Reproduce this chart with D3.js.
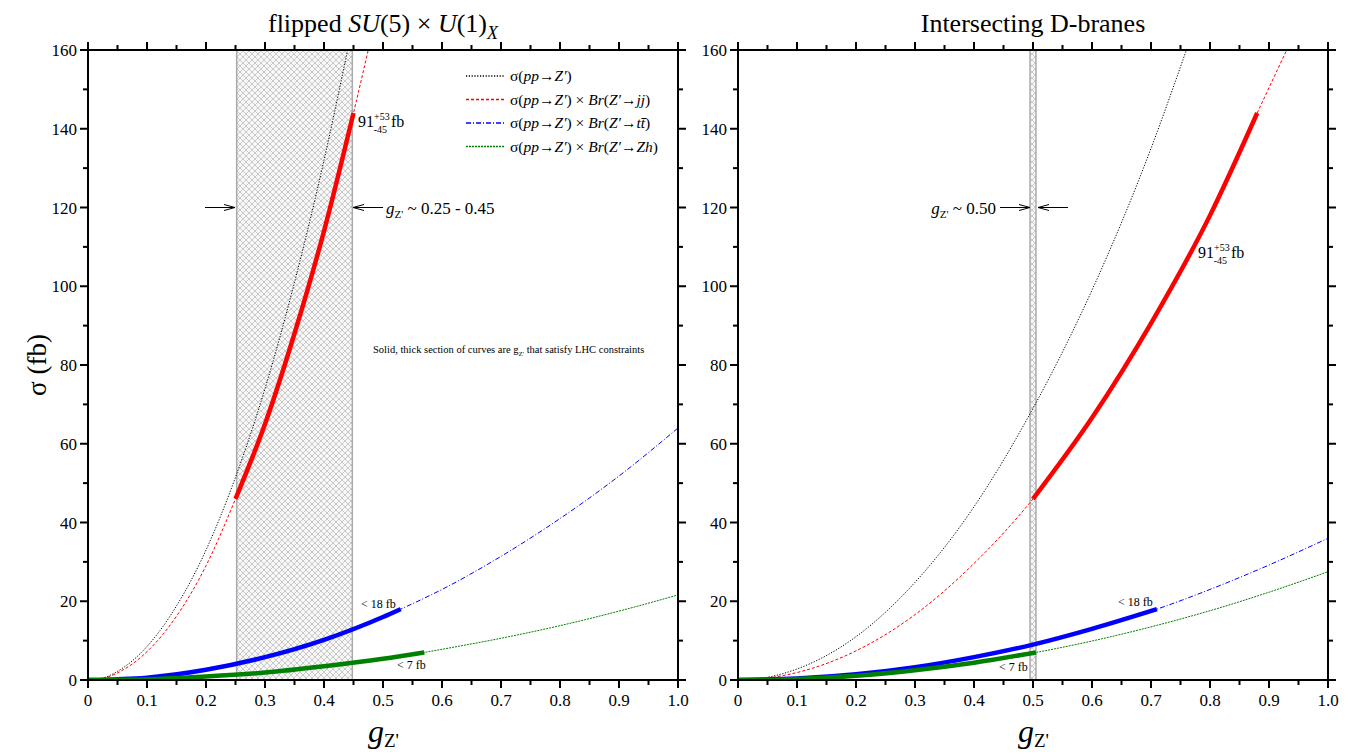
<!DOCTYPE html>
<html>
<head>
<meta charset="utf-8">
<script src="https://cdn.jsdelivr.net/npm/d3@7"></script>
<style>
  body { margin: 0; background: #fff; }
  svg { font-family: "Liberation Serif", "Times New Roman", serif; }
</style>
</head>
<body>
<div id="plot"></div>
<script>
// [g, sigma in fb]
const flippedTotal = [[0,0],[0.02,0.3],[0.05,2.2],[0.1,8.5],[0.15,18.8],[0.2,33],[0.25,51.5],[0.3,74],[0.35,101],[0.4,132],[0.44,160]];
const flippedJJ    = [[0,0],[0.02,0.2],[0.05,1.8],[0.1,7.2],[0.15,16.2],[0.2,29],[0.25,46],[0.3,65],[0.35,88],[0.4,114],[0.45,144],[0.475,160]];
const flippedTT    = [[0,0],[0.1,0.6],[0.2,2.6],[0.3,5.8],[0.4,10.2],[0.5,16],[0.53,18],[0.6,23],[0.7,31.4],[0.8,41],[0.9,51.8],[1.0,64]];
const flippedZH    = [[0,0],[0.1,0.2],[0.2,0.9],[0.3,1.9],[0.4,3.5],[0.5,5.4],[0.57,7],[0.6,7.8],[0.7,10.6],[0.8,13.8],[0.9,17.5],[1.0,21.6]];

const branesTotal = [[0,0],[0.05,0.7],[0.1,2.8],[0.2,11],[0.3,24.8],[0.4,44],[0.5,69],[0.6,99],[0.7,135],[0.76,160]];
const branesJJ    = [[0,0],[0.05,0.5],[0.1,1.9],[0.2,7.4],[0.3,16.6],[0.4,29.6],[0.5,46],[0.6,66.6],[0.7,90.6],[0.8,118],[0.88,144],[0.93,160]];
const branesTT    = [[0,0],[0.1,0.36],[0.2,1.44],[0.3,3.24],[0.4,5.8],[0.5,9],[0.6,13],[0.71,18],[0.8,23],[0.9,29.2],[1.0,36]];
const branesZH    = [[0,0],[0.1,0.28],[0.2,1.1],[0.3,2.5],[0.4,4.4],[0.505,7],[0.6,9.9],[0.7,13.5],[0.8,17.6],[0.9,22.3],[1.0,27.5]];

// g ranges drawn thick (satisfy LHC constraints)
const flippedThick = { jj: [0.25, 0.45], tt: [0, 0.53], zh: [0, 0.57] };
const branesThick  = { jj: [0.5, 0.88], tt: [0, 0.71], zh: [0, 0.505] };
const flippedBand = [0.252, 0.448];
const branesBand  = [0.495, 0.505];

const xTicks = [0, 0.1, 0.2, 0.3, 0.4, 0.5, 0.6, 0.7, 0.8, 0.9, 1.0];
const yTicks = [0, 20, 40, 60, 80, 100, 120, 140, 160];

const styles = {
  total: { color: "#000", dash: "1.2,1.6" },
  jj:    { color: "#ff0000", dash: "3,2" },
  tt:    { color: "#0000ff", dash: "5,2,1,2" },
  zh:    { color: "#008000", dash: "2,1" }
};

const W = 1363, H = 755;
const svg = d3.select("#plot").append("svg").attr("width", W).attr("height", H);

const defs = svg.append("defs");
const pat = defs.append("pattern")
  .attr("id", "hatch").attr("patternUnits", "userSpaceOnUse")
  .attr("width", 6).attr("height", 6);
pat.append("rect").attr("width", 6).attr("height", 6).attr("fill", "#f7f7f7");
pat.append("path").attr("d", "M0,0 L6,6 M6,0 L0,6")
  .attr("stroke", "#c4c4c4").attr("stroke-width", 0.9);

function panel(opt) {
  const x = d3.scaleLinear().domain([0, 1]).range([opt.left, opt.left + 590]);
  const y = d3.scaleLinear().domain([0, 160]).range([680, 50]);
  const g = svg.append("g");

  defs.append("clipPath").attr("id", opt.id + "clip")
    .append("rect").attr("x", x(0)).attr("y", y(160)).attr("width", 590).attr("height", 630);

  // hatched band
  g.append("rect")
    .attr("x", x(opt.band[0])).attr("y", y(160))
    .attr("width", x(opt.band[1]) - x(opt.band[0])).attr("height", 630)
    .attr("fill", "url(#hatch)").attr("stroke", "#aaa").attr("stroke-width", 1.5);

  const line = d3.line().x(d => x(d[0])).y(d => y(d[1])).curve(d3.curveMonotoneX);
  const plot = g.append("g").attr("clip-path", `url(#${opt.id}clip)`);

  const series = [["total", opt.total], ["jj", opt.jj], ["tt", opt.tt], ["zh", opt.zh]];
  series.forEach(([k, data]) => {
    plot.append("path").datum(data)
      .attr("fill", "none").attr("stroke", styles[k].color)
      .attr("stroke-width", 1).attr("stroke-dasharray", styles[k].dash)
      .attr("d", line);
  });
  series.forEach(([k, data]) => {
    const r = opt.thick[k];
    if (!r) return;
    plot.append("path").datum(data.filter(d => d[0] >= r[0] - 1e-9 && d[0] <= r[1] + 1e-9))
      .attr("fill", "none").attr("stroke", styles[k].color)
      .attr("stroke-width", 4.5).attr("d", line);
  });

  // axes
  const minorX = d3.range(0, 1.0001, 0.05);
  const minorY = d3.range(0, 161, 10);
  const axes = g.append("g").attr("stroke", "#000");
  axes.append("rect").attr("x", x(0)).attr("y", y(160)).attr("width", 590).attr("height", 630)
    .attr("fill", "none").attr("stroke-width", 2);
  minorX.forEach((v, i) => {
    const len = i % 2 === 0 ? 8 : 5;
    axes.append("line").attr("x1", x(v)).attr("x2", x(v)).attr("y1", y(0)).attr("y2", y(0) + len).attr("stroke-width", 2);
    axes.append("line").attr("x1", x(v)).attr("x2", x(v)).attr("y1", y(160)).attr("y2", y(160) - len).attr("stroke-width", 2);
  });
  minorY.forEach((v, i) => {
    const len = i % 2 === 0 ? 8 : 5;
    axes.append("line").attr("x1", x(0)).attr("x2", x(0) - len).attr("y1", y(v)).attr("y2", y(v)).attr("stroke-width", 2);
    axes.append("line").attr("x1", x(1)).attr("x2", x(1) + len).attr("y1", y(v)).attr("y2", y(v)).attr("stroke-width", 2);
  });
  g.selectAll(".xt").data(xTicks).enter().append("text")
    .attr("x", d => x(d)).attr("y", y(0) + 26).attr("text-anchor", "middle")
    .attr("font-size", 17).text(d => d === 0 ? "0" : d3.format(".1f")(d));
  g.selectAll(".yt").data(yTicks).enter().append("text")
    .attr("x", x(0) - 11).attr("y", d => y(d) + 6).attr("text-anchor", "end")
    .attr("font-size", 17).text(d => d);

  // x axis title
  const xt = g.append("text").attr("x", x(0.5) - 15).attr("y", 742).attr("font-size", 32);
  xt.append("tspan").attr("font-style", "italic").text("g");
  xt.append("tspan").attr("font-size", 19).attr("dy", 5).text("Z'");

  // arrows
  const ay = y(120);
  const arrow = (x1, x2) => {
    g.append("line").attr("x1", x1).attr("x2", x2).attr("y1", ay).attr("y2", ay).attr("stroke", "#000").attr("stroke-width", 1);
    const s = Math.sign(x2 - x1);
    g.append("path").attr("d", `M${x2 - s * 11},${ay - 3} L${x2},${ay} L${x2 - s * 11},${ay + 3}`)
      .attr("fill", "none").attr("stroke", "#000").attr("stroke-width", 1);
  };
  opt.arrows.forEach(a => arrow(a[0], a[1]));

  const gl = g.append("text").attr("x", opt.gLabel[0]).attr("y", opt.gLabel[1])
    .attr("text-anchor", opt.gLabel[2]).attr("font-size", 17);
  gl.append("tspan").attr("font-style", "italic").text("g");
  gl.append("tspan").attr("font-size", 11).attr("dy", 4).text("Z'");
  gl.append("tspan").attr("dy", -4).text(" ~ " + opt.gText);

  // 91 fb label
  const lab = g.append("text").attr("x", opt.label91[0]).attr("y", opt.label91[1]).attr("font-size", 16);
  lab.append("tspan").text("91");
  lab.append("tspan").attr("font-size", 10).attr("dy", -7).text("+53");
  lab.append("tspan").attr("font-size", 10).attr("dx", -16).attr("dy", 13).text("-45");
  lab.append("tspan").attr("dy", -6).text(" fb");

  g.append("text").attr("x", opt.l18[0]).attr("y", opt.l18[1]).attr("font-size", 12).text("< 18 fb");
  g.append("text").attr("x", opt.l7[0]).attr("y", opt.l7[1]).attr("font-size", 12).text("< 7 fb");

  return { g, x, y };
}

const left = panel({
  id: "a", left: 88, band: flippedBand, thick: flippedThick,
  total: flippedTotal, jj: flippedJJ, tt: flippedTT, zh: flippedZH,
  arrows: [[205, 235], [383, 353]], gLabel: [386, 214, "start"], gText: "0.25 - 0.45",
  label91: [358, 127], l18: [361, 608], l7: [397, 669]
});
const right = panel({
  id: "b", left: 738, band: branesBand, thick: branesThick,
  total: branesTotal, jj: branesJJ, tt: branesTT, zh: branesZH,
  arrows: [[1000, 1030], [1068, 1038]], gLabel: [996, 214, "end"], gText: "0.50",
  label91: [1198, 258], l18: [1118, 606], l7: [999, 671]
});

// titles
const t1 = svg.append("text").attr("x", 383).attr("y", 32).attr("text-anchor", "middle").attr("font-size", 26);
t1.append("tspan").text("flipped ");
t1.append("tspan").attr("font-style", "italic").text("SU");
t1.append("tspan").text("(5) × ");
t1.append("tspan").attr("font-style", "italic").text("U");
t1.append("tspan").text("(1)");
t1.append("tspan").attr("font-style", "italic").attr("font-size", 18).attr("dy", 7).text("X");
svg.append("text").attr("x", 1033).attr("y", 32).attr("text-anchor", "middle").attr("font-size", 26).text("Intersecting D-branes");

// y title
svg.append("text").attr("transform", "translate(46,365) rotate(-90)").attr("text-anchor", "middle")
  .attr("font-size", 27).text("σ (fb)");

// legend
const legendItems = [
  ["total", ["σ(", ["pp"], "→", ["Z′"], ")"]],
  ["jj", ["σ(", ["pp"], "→", ["Z′"], ") × ", ["Br"], "(", ["Z′"], "→", ["jj"], ")"]],
  ["tt", ["σ(", ["pp"], "→", ["Z′"], ") × ", ["Br"], "(", ["Z′"], "→", ["tt̄"], ")"]],
  ["zh", ["σ(", ["pp"], "→", ["Z′"], ") × ", ["Br"], "(", ["Z′"], "→", ["Zh"], ")"]]
];
const lg = svg.append("g").attr("transform", "translate(466,76)");
legendItems.forEach(([k, parts], i) => {
  const yy = i * 23.5;
  lg.append("line").attr("x1", 0).attr("x2", 38).attr("y1", yy).attr("y2", yy)
    .attr("stroke", styles[k].color).attr("stroke-width", 1.3).attr("stroke-dasharray", styles[k].dash);
  const t = lg.append("text").attr("x", 44).attr("y", yy + 5).attr("font-size", 15.5);
  parts.forEach(p => {
    if (Array.isArray(p)) t.append("tspan").attr("font-style", "italic").text(p[0]);
    else t.append("tspan").text(p);
  });
});

// note
const note = svg.append("text").attr("x", 373).attr("y", 353).attr("font-size", 10.5);
note.append("tspan").text("Solid, thick section of curves are g");
note.append("tspan").attr("font-size", 7).attr("dy", 3).text("Z'");
note.append("tspan").attr("dy", -3).text(" that satisfy LHC constraints");
</script>
</body>
</html>
